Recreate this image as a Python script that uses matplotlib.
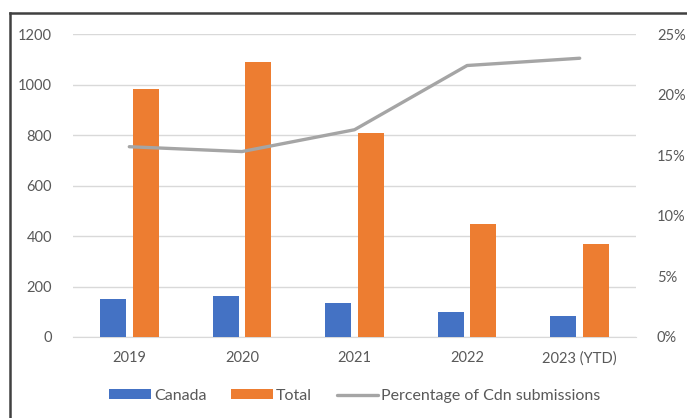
import numpy as np
import matplotlib.pyplot as plt
from matplotlib.lines import Line2D
from matplotlib.ticker import MultipleLocator, PercentFormatter

plt.rcParams['font.family'] = ['Lato', 'DejaVu Sans']
plt.rcParams['font.size'] = 10.5

years = ['2019', '2020', '2021', '2022', '2023 (YTD)']
canada = [150, 164, 136, 99, 83]
total = [981, 1089, 809, 449, 370]
pct_cdn = [15.7, 15.3, 17.1, 22.4, 23.0]

txt = '#595959'
fig = plt.figure(figsize=(6.87, 4.18), dpi=100)
ax = fig.add_axes([73 / 687, 1 - 337 / 418, 563 / 687, 303 / 418])
ax2 = ax.twinx()

x = np.arange(len(years))
w = 0.23
ax.bar(x - 0.145, canada, w, color='#4472C4', label='Canada', zorder=3)
ax.bar(x + 0.145, total, w, color='#ED7D31', label='Total', zorder=3)
ax2.plot(x, pct_cdn, color='#A5A5A5', lw=2.4, solid_capstyle='round',
         label='Percentage of Cdn submissions')

ax.set_xlim(-0.5, 4.5)
ax.set_ylim(0, 1200)
ax2.set_ylim(0, 25)
ax.yaxis.set_major_locator(MultipleLocator(200))
ax2.yaxis.set_major_locator(MultipleLocator(5))
ax2.yaxis.set_major_formatter(PercentFormatter(decimals=0))
ax.set_xticks(x)
ax.set_xticklabels(years)
ax.grid(axis='y', color='#D9D9D9', lw=1, zorder=0)

for a in (ax, ax2):
    for s in a.spines.values():
        s.set_visible(False)
    a.tick_params(length=0, colors=txt, labelsize=10.5)
ax.spines['bottom'].set_visible(True)
ax.spines['bottom'].set_color('#D9D9D9')
ax.tick_params(axis='y', pad=15)
ax.tick_params(axis='x', pad=10)
ax2.tick_params(axis='y', pad=15)

h1, l1 = ax.get_legend_handles_labels()
h2, l2 = ax2.get_legend_handles_labels()
leg = fig.legend(h1 + h2, l1 + l2, loc='center', bbox_to_anchor=(355 / 687, 1 - 396 / 418),
                 ncol=3, frameon=False, handlelength=2.6, handleheight=0.6,
                 handletextpad=0.2, columnspacing=1.55, fontsize=11.5)
for t in leg.get_texts():
    t.set_color(txt)

# outer frame
fig.add_artist(Line2D([10 / 687, 10 / 687], [0, 1 - 13 / 418], color='#404040', lw=1.8))
fig.add_artist(Line2D([10 / 687, 1], [1 - 13 / 418, 1 - 13 / 418], color='#404040', lw=1.8))

plt.savefig('out.png', dpi=100)
